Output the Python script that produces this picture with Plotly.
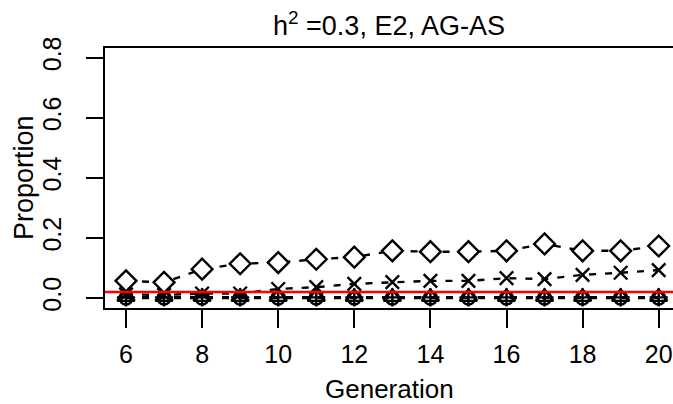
import plotly.graph_objects as go

generation = list(range(6, 21))
diamond_vals = [0.057, 0.052, 0.096, 0.114, 0.118, 0.129, 0.136, 0.157, 0.154, 0.154, 0.157, 0.180, 0.157, 0.157, 0.173]
cross_vals = [0.012, 0.010, 0.015, 0.015, 0.030, 0.036, 0.047, 0.053, 0.057, 0.057, 0.066, 0.063, 0.077, 0.084, 0.093]
plus_vals = [0.002] * 15
triangle_vals = [0.003] * 15
circle_vals = [0.000] * 15
threshold = 0.02

x_ticks = [6, 8, 10, 12, 14, 16, 18, 20]
y_ticks = [0.0, 0.2, 0.4, 0.6, 0.8]
y_ticktext = ["0.0", "0.2", "0.4", "0.6", "0.8"]

FONT = "Liberation Sans, Arial, sans-serif"
LW = 2.4
DASH = "7px,9px"

series = [
    (circle_vals, "circle-open", 13, None),
    (triangle_vals, "triangle-up-open", 15, None),
    (plus_vals, "cross-thin-open", 13, None),
    (cross_vals, "x-thin-open", 13.5, None),
    (diamond_vals, "diamond", 16, "white"),
]

fig = go.Figure()
for vals, sym, size, fill in series:
    fig.add_trace(go.Scatter(
        x=generation, y=vals, mode="lines+markers",
        line=dict(color="black", width=LW, dash=DASH),
        marker=dict(symbol=sym, size=size,
                    color=fill if fill else "black",
                    line=dict(color="black", width=LW)),
        showlegend=False, cliponaxis=False,
    ))

fig.add_shape(type="line", xref="paper", x0=0, x1=1, yref="y", y0=threshold, y1=threshold,
              line=dict(color="#FF0000", width=2.5), layer="above")

fig.update_layout(
    width=673, height=404,
    margin=dict(l=105, r=0, t=48, b=96),
    paper_bgcolor="white", plot_bgcolor="white",
    font=dict(family=FONT, color="black"),
    title=dict(text="h<sup>2</sup> =0.3, E2, AG-AS", x=0.5, xref="paper",
               y=1 - 26 / 404, yref="container", yanchor="middle", xanchor="center",
               font=dict(size=27, family=FONT, color="black")),
    xaxis=dict(range=[5.448, 20.376], tickvals=x_ticks, ticks="outside", ticklen=18,
               tickwidth=2, tickcolor="black", showline=True, linecolor="black",
               linewidth=2, mirror=True, showgrid=False, zeroline=False,
               tickfont=dict(size=25, family=FONT), ticklabelstandoff=5),
    yaxis=dict(range=[-0.0333, 0.832], tickvals=y_ticks, ticktext=y_ticktext,
               ticks="outside", ticklen=17, tickwidth=2, tickcolor="black",
               showline=True, linecolor="black", linewidth=2, mirror=False,
               showgrid=False, zeroline=False, tickangle=-90,
               tickfont=dict(size=25, family=FONT), ticklabelstandoff=15),
    annotations=[
        dict(text="Generation", xref="paper", yref="paper", x=0.5, y=-81 / 260,
             xanchor="center", yanchor="middle", showarrow=False,
             font=dict(size=26, family=FONT, color="black")),
        dict(text="Proportion", xref="paper", yref="paper", x=-81 / 568, y=0.5,
             xanchor="center", yanchor="middle", textangle=-90, showarrow=False,
             font=dict(size=27, family=FONT, color="black")),
    ],
)

fig.write_html("out.html")
